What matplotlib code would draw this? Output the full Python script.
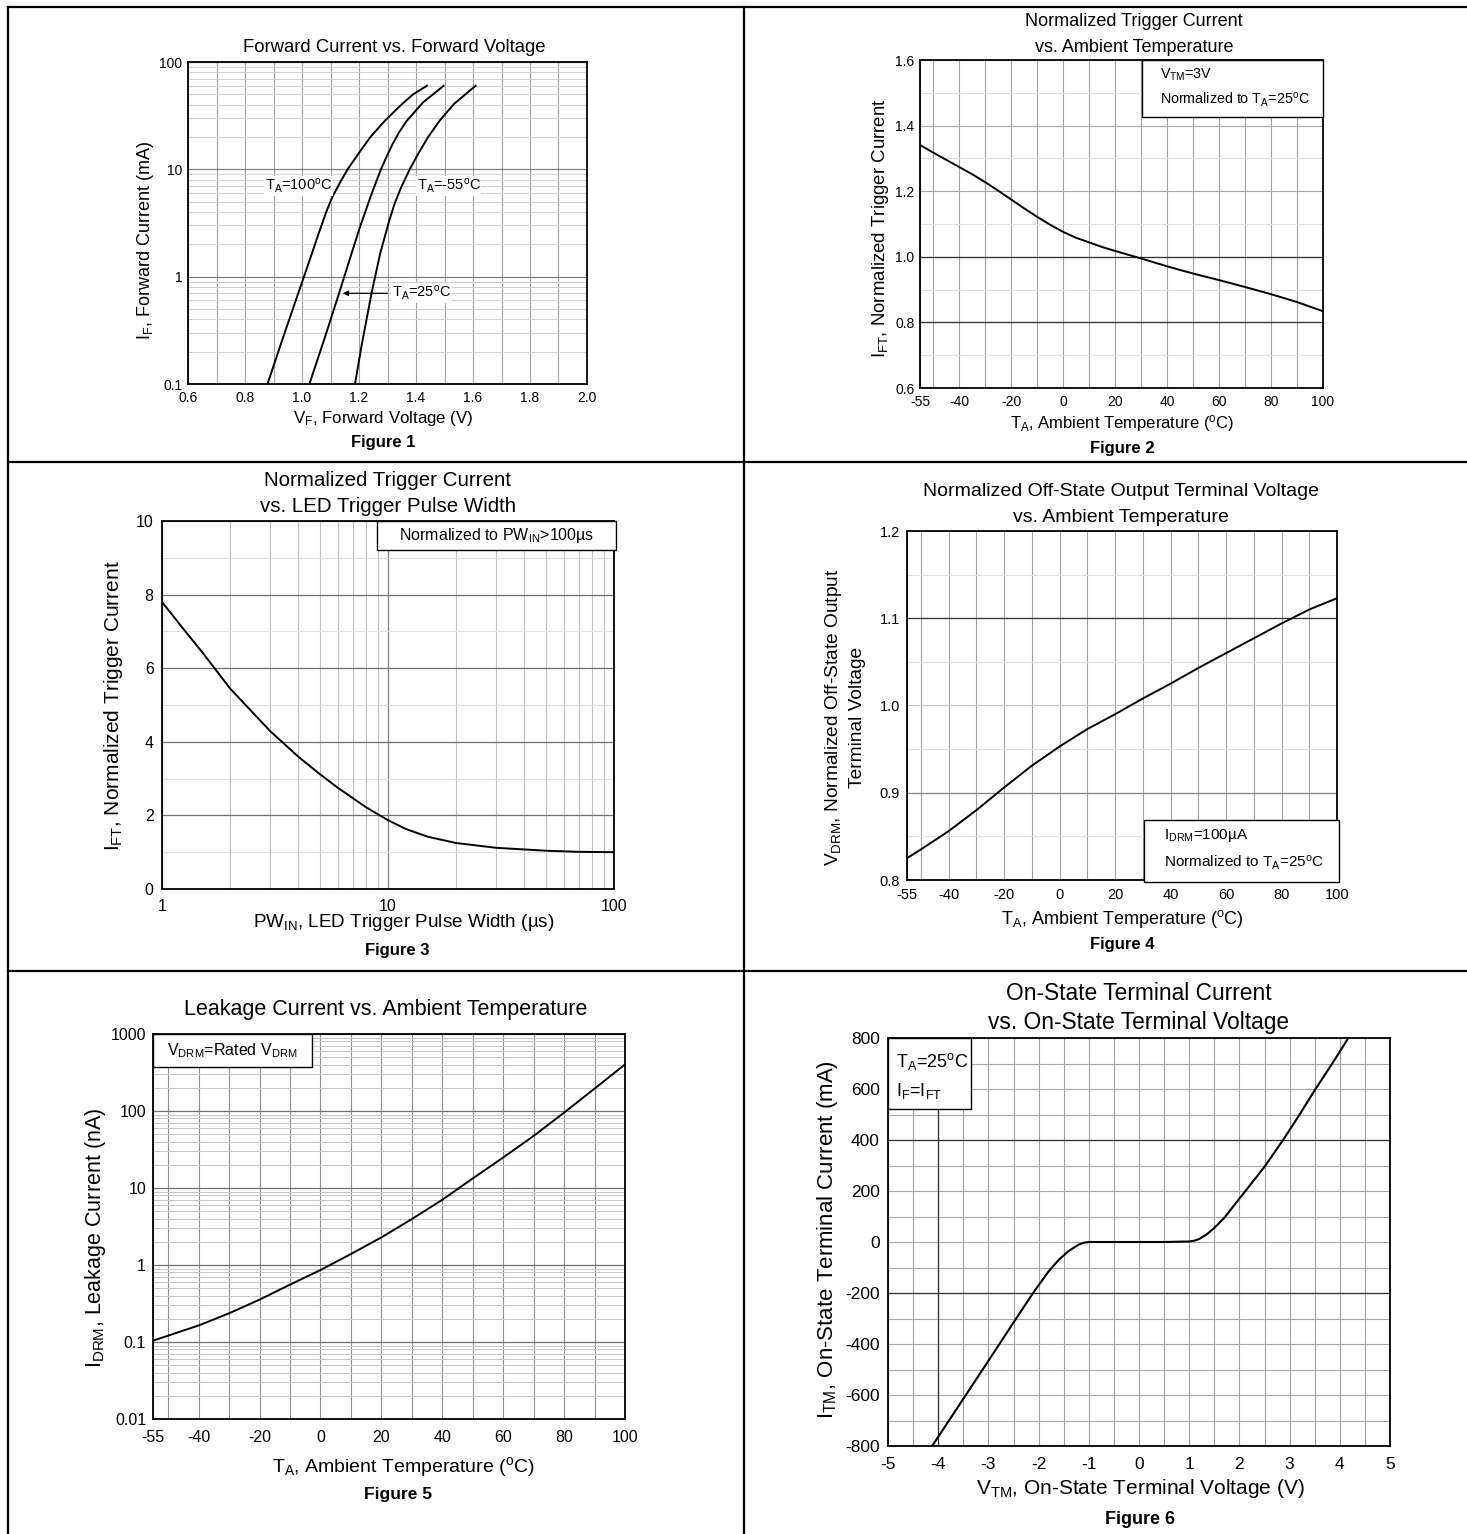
import numpy as np
import matplotlib
matplotlib.use('Agg')
import matplotlib.pyplot as plt
from matplotlib.patches import Rectangle
from matplotlib.lines import Line2D
from matplotlib.ticker import FixedLocator, LogLocator, NullFormatter

plt.rcParams['font.family'] = ['Liberation Sans', 'DejaVu Sans']
plt.rcParams['mathtext.fontset'] = 'custom'
plt.rcParams['mathtext.rm'] = 'Liberation Sans'
plt.rcParams['mathtext.it'] = 'Liberation Sans:italic'
plt.rcParams['mathtext.bf'] = 'Liberation Sans:bold'
plt.rcParams['axes.unicode_minus'] = False

W, H = 1467, 1534

# ---- Figure 1: forward current vs forward voltage ----
vf_100 = [0.879, 0.922, 0.970, 1.007, 1.058, 1.085, 1.106, 1.133, 1.160, 1.198, 1.240,
          1.291, 1.351, 1.390, 1.438]
if_100 = [0.1, 0.22, 0.52, 1.0, 2.5, 4.0, 5.5, 7.5, 10, 14, 20, 28.4, 40.6, 50, 60]
vf_25 = [1.026, 1.080, 1.130, 1.166, 1.203, 1.240, 1.259, 1.277, 1.296, 1.318, 1.340,
         1.368, 1.425, 1.497]
if_25 = [0.1, 0.27, 0.70, 1.41, 2.88, 5.5, 7.5, 10, 13, 17.2, 22, 28.4, 42.1, 60]
vf_m55 = [1.186, 1.210, 1.244, 1.274, 1.306, 1.325, 1.348, 1.378, 1.408, 1.442, 1.483,
          1.533, 1.609]
if_m55 = [0.1, 0.236, 0.70, 1.63, 3.32, 4.8, 6.8, 10, 14, 19.9, 28.4, 40.6, 60]

# ---- Figure 2: normalized trigger current vs temperature ----
temp2 = [-55, -50, -45, -40, -35, -30, -25, -20, -15, -10, -5, 0, 5, 10, 15, 20,
         30, 40, 50, 60, 70, 80, 90, 100]
ift2 = [1.341, 1.318, 1.296, 1.274, 1.252, 1.228, 1.202, 1.175, 1.148, 1.122, 1.098,
        1.076, 1.058, 1.044, 1.030, 1.018, 0.995, 0.971, 0.949, 0.929, 0.908, 0.886,
        0.862, 0.834]

# ---- Figure 3: normalized trigger current vs pulse width ----
pw3 = [1, 1.25, 1.5, 2, 3, 4, 5, 6, 8, 10, 12, 15, 20, 30, 50, 70, 100]
ift3 = [7.8, 7.05, 6.45, 5.45, 4.3, 3.6, 3.12, 2.75, 2.22, 1.87, 1.63, 1.42, 1.25,
        1.12, 1.04, 1.01, 1.0]

# ---- Figure 4: normalized off-state voltage vs temperature ----
temp4 = [-55, -50, -40, -30, -20, -10, 0, 10, 20, 30, 40, 50, 60, 70, 80, 90, 100]
vdrm4 = [0.825, 0.835, 0.856, 0.880, 0.906, 0.931, 0.953, 0.973, 0.990, 1.008, 1.025,
         1.043, 1.060, 1.077, 1.094, 1.110, 1.123]

# ---- Figure 5: leakage current vs temperature ----
temp5 = [-55, -40, -30, -20, -10, 0, 10, 20, 30, 40, 50, 60, 70, 80, 90, 100]
idrm5 = [0.104, 0.164, 0.236, 0.355, 0.556, 0.861, 1.39, 2.28, 3.95, 7.03,
         13.3, 24.9, 47.5, 95.3, 195, 403]

# ---- Figure 6: on-state current vs voltage ----
vtm6 = [-4.12, -3.53, -3.0, -2.5, -2.11, -1.8, -1.6, -1.4, -1.2, -1.1, -1.0, -0.5, 0,
        0.5, 1.0, 1.1, 1.2, 1.35, 1.5, 1.7, 1.9, 2.12, 2.5, 2.87, 3.2, 3.5, 3.85, 4.17]
itm6 = [-800, -624, -466, -316, -200, -115, -70, -35, -10, -3, 0, 0, 0,
        0, 2, 5, 12, 30, 55, 95, 145, 200, 295, 400, 500, 595, 700, 800]

temp_ticks = [-55, -40, -20, 0, 20, 40, 60, 80, 100]
temp_grid = [-50, -30, -10, 10, 30, 50, 70, 90]

fig = plt.figure(figsize=(W / 100, H / 100), dpi=100)


def px_axes(l, t, r, b):
    return fig.add_axes([l / W, 1 - b / H, (r - l) / W, (b - t) / H])


def px_text(x, y, s, size, **kw):
    kw.setdefault('ha', 'center')
    kw.setdefault('va', 'center')
    fig.text(x / W, 1 - y / H, s, fontsize=size, **kw)


def base_style(ax, size, xpad, ypad):
    for sp in ax.spines.values():
        sp.set_linewidth(1.3)
        sp.set_zorder(5)
    ax.tick_params(which='both', length=0, labelsize=size)
    ax.tick_params(axis='x', pad=xpad)
    ax.tick_params(axis='y', pad=ypad)
    ax.set_axisbelow(True)


def box(ax, x0, y0, x1, y1):
    ax.add_patch(Rectangle((x0, y0), x1 - x0, y1 - y0, transform=ax.transAxes,
                           facecolor='white', edgecolor='black', lw=1.0,
                           clip_on=False, zorder=6))


# table frame
for seg in [((8, 1467), (7, 7)), ((8, 8), (7, 1534)), ((743.5, 743.5), (7, 1534)),
            ((8, 1467), (462, 462)), ((8, 1467), (971, 971))]:
    fig.add_artist(Line2D([x / W for x in seg[0]], [1 - y / H for y in seg[1]],
                          color='black', lw=1.6))

# ================= Figure 1 =================
ax1 = px_axes(188, 62, 587, 384)
ax1.set_yscale('log')
ax1.set_xlim(0.6, 2.0)
ax1.set_ylim(0.1, 100)
ax1.set_xticks(np.round(np.arange(0.6, 2.01, 0.2), 1))
ax1.set_xticklabels(['0.6', '0.8', '1.0', '1.2', '1.4', '1.6', '1.8', '2.0'])
ax1.xaxis.set_minor_locator(FixedLocator(np.arange(0.7, 2.0, 0.2)))
ax1.set_yticks([0.1, 1, 10, 100])
ax1.set_yticklabels(['0.1', '1', '10', '100'])
ax1.yaxis.set_minor_locator(LogLocator(subs=range(2, 10)))
ax1.yaxis.set_minor_formatter(NullFormatter())
base_style(ax1, 10, 5, 4)
ax1.grid(True, which='both', axis='x', color='#a0a0a0', lw=0.8)
ax1.grid(True, which='major', axis='y', color='#808080', lw=0.9)
ax1.grid(True, which='minor', axis='y', color='#d0d0d0', lw=0.7)
for v, i in [(vf_100, if_100), (vf_25, if_25), (vf_m55, if_m55)]:
    ax1.plot(v, i, color='black', lw=1.4, zorder=3)
lab_kw = dict(fontsize=10.5, va='center', ha='left', zorder=4,
              bbox=dict(facecolor='white', edgecolor='none', pad=0.5))
ax1.text(0.870, 7.05, r'T$_{\rm A}$=100$^{\rm o}$C', **lab_kw)
ax1.text(1.402, 7.05, r'T$_{\rm A}$=-55$^{\rm o}$C', **lab_kw)
ax1.text(1.315, 0.70, r'T$_{\rm A}$=25$^{\rm o}$C', **lab_kw)
ax1.annotate('', xy=(1.133, 0.70), xytext=(1.31, 0.70), zorder=4,
             arrowprops=dict(arrowstyle='-|>', lw=0.9, color='black', mutation_scale=8))
px_text(394, 47, 'Forward Current vs. Forward Voltage', 13.3)
px_text(383, 418, r'V$_{\rm F}$, Forward Voltage (V)', 12.2)
px_text(145, 240, r'I$_{\rm F}$, Forward Current (mA)', 13, rotation=90)
px_text(383, 442, 'Figure 1', 12, fontweight='bold')

# ================= Figure 2 =================
ax2 = px_axes(920, 60, 1323, 388)
ax2.set_xlim(-55, 100)
ax2.set_ylim(0.6, 1.6)
ax2.set_xticks(temp_ticks)
ax2.xaxis.set_minor_locator(FixedLocator(temp_grid))
ax2.set_yticks([0.6, 0.8, 1.0, 1.2, 1.4, 1.6])
ax2.set_yticklabels(['0.6', '0.8', '1.0', '1.2', '1.4', '1.6'])
ax2.yaxis.set_minor_locator(FixedLocator([0.7, 0.9, 1.1, 1.3, 1.5]))
base_style(ax2, 10, 5, 4)
ax2.grid(True, which='both', axis='x', color='#a0a0a0', lw=0.8)
ax2.grid(True, which='major', axis='y', color='#a8a8a8', lw=0.8)
ax2.grid(True, which='minor', axis='y', color='#e0e0e0', lw=0.7)
for yv in [0.8, 1.0]:
    ax2.axhline(yv, color='#303030', lw=0.9, zorder=0.6)
ax2.plot(temp2, ift2, color='black', lw=1.4, zorder=3)
box(ax2, 0.55, 0.825, 1.0, 1.0)
ax2.text(0.596, 0.954, r'V$_{\rm TM}$=3V', transform=ax2.transAxes, fontsize=10.3,
         va='center', zorder=7)
ax2.text(0.596, 0.88, r'Normalized to T$_{\rm A}$=25$^{\rm o}$C', transform=ax2.transAxes,
         fontsize=10.3, va='center', zorder=7)
px_text(1134, 22, 'Normalized Trigger Current', 13)
px_text(1134, 47, 'vs. Ambient Temperature', 13)
px_text(1122, 424, r'T$_{\rm A}$, Ambient Temperature ($^{\rm o}$C)', 12)
px_text(880, 228, r'I$_{\rm FT}$, Normalized Trigger Current', 13.4, rotation=90)
px_text(1122, 449, 'Figure 2', 12, fontweight='bold')

# ================= Figure 3 =================
ax3 = px_axes(162, 521, 614, 889)
ax3.set_xscale('log')
ax3.set_xlim(1, 100)
ax3.set_ylim(0, 10)
ax3.set_xticks([1, 10, 100])
ax3.set_xticklabels(['1', '10', '100'])
ax3.xaxis.set_minor_locator(LogLocator(subs=range(2, 10)))
ax3.xaxis.set_minor_formatter(NullFormatter())
ax3.set_yticks([0, 2, 4, 6, 8, 10])
ax3.yaxis.set_minor_locator(FixedLocator([1, 3, 5, 7, 9]))
base_style(ax3, 11.5, 7, 6)
ax3.grid(True, which='major', axis='x', color='#808080', lw=0.9)
ax3.grid(True, which='minor', axis='x', color='#c0c0c0', lw=0.8)
ax3.grid(True, which='major', axis='y', color='#707070', lw=0.9)
ax3.grid(True, which='minor', axis='y', color='#e0e0e0', lw=0.7)
ax3.plot(pw3, ift3, color='black', lw=1.4, zorder=3)
box(ax3, 0.475, 0.92, 1.005, 1.0)
ax3.text(0.74, 0.96, r'Normalized to PW$_{\rm IN}$>100µs', transform=ax3.transAxes,
         fontsize=11.5, ha='center', va='center', zorder=7)
px_text(388, 480, 'Normalized Trigger Current', 14.8)
px_text(388, 507, 'vs. LED Trigger Pulse Width', 14.8)
px_text(404, 923, r'PW$_{\rm IN}$, LED Trigger Pulse Width (µs)', 13.6)
px_text(114, 706, r'I$_{\rm FT}$, Normalized Trigger Current', 15, rotation=90)
px_text(397, 951, 'Figure 3', 12, fontweight='bold')

# ================= Figure 4 =================
ax4 = px_axes(907, 531, 1337, 880)
ax4.set_xlim(-55, 100)
ax4.set_ylim(0.8, 1.2)
ax4.set_xticks(temp_ticks)
ax4.xaxis.set_minor_locator(FixedLocator(temp_grid))
ax4.set_yticks([0.8, 0.9, 1.0, 1.1, 1.2])
ax4.set_yticklabels(['0.8', '0.9', '1.0', '1.1', '1.2'])
ax4.yaxis.set_minor_locator(FixedLocator([0.85, 0.95, 1.05, 1.15]))
base_style(ax4, 10.5, 6, 5)
ax4.grid(True, which='both', axis='x', color='#a0a0a0', lw=0.8)
ax4.grid(True, which='major', axis='y', color='#c8c8c8', lw=0.8)
ax4.grid(True, which='minor', axis='y', color='#e0e0e0', lw=0.7)
ax4.axhline(0.9, color='#888888', lw=0.9, zorder=0.6)
ax4.axhline(1.1, color='#303030', lw=0.9, zorder=0.6)
ax4.plot(temp4, vdrm4, color='black', lw=1.4, zorder=3)
box(ax4, 0.552, -0.005, 1.004, 0.173)
ax4.text(0.597, 0.127, r'I$_{\rm DRM}$=100µA', transform=ax4.transAxes, fontsize=11,
         va='center', zorder=7)
ax4.text(0.597, 0.05, r'Normalized to T$_{\rm A}$=25$^{\rm o}$C', transform=ax4.transAxes,
         fontsize=11, va='center', zorder=7)
px_text(1121, 492, 'Normalized Off-State Output Terminal Voltage', 14)
px_text(1121, 517, 'vs. Ambient Temperature', 14)
px_text(1122, 919, r'T$_{\rm A}$, Ambient Temperature ($^{\rm o}$C)', 13)
px_text(834, 717, r'V$_{\rm DRM}$, Normalized Off-State Output', 13.8, rotation=90)
px_text(857, 717, 'Terminal Voltage', 13.8, rotation=90)
px_text(1122, 945, 'Figure 4', 12, fontweight='bold')

# ================= Figure 5 =================
ax5 = px_axes(153, 1034, 625, 1419)
ax5.set_yscale('log')
ax5.set_xlim(-55, 100)
ax5.set_ylim(0.01, 1000)
ax5.set_xticks(temp_ticks)
ax5.xaxis.set_minor_locator(FixedLocator(temp_grid))
ax5.set_yticks([0.01, 0.1, 1, 10, 100, 1000])
ax5.set_yticklabels(['0.01', '0.1', '1', '10', '100', '1000'])
ax5.yaxis.set_minor_locator(LogLocator(subs=range(2, 10)))
ax5.yaxis.set_minor_formatter(NullFormatter())
base_style(ax5, 11.5, 8, 5)
ax5.grid(True, which='both', axis='x', color='#909090', lw=0.8)
ax5.grid(True, which='major', axis='y', color='#707070', lw=0.9)
ax5.grid(True, which='minor', axis='y', color='#c8c8c8', lw=0.7)
ax5.plot(temp5, idrm5, color='black', lw=1.4, zorder=3)
box(ax5, 0.0, 0.914, 0.336, 1.0)
ax5.text(0.168, 0.957, r'V$_{\rm DRM}$=Rated V$_{\rm DRM}$', transform=ax5.transAxes,
         fontsize=11.5, ha='center', va='center', zorder=7)
px_text(386, 1009, 'Leakage Current vs. Ambient Temperature', 15.5)
px_text(403, 1467, r'T$_{\rm A}$, Ambient Temperature ($^{\rm o}$C)', 14)
px_text(95, 1238, r'I$_{\rm DRM}$, Leakage Current (nA)', 15.5, rotation=90)
px_text(398, 1495, 'Figure 5', 12.5, fontweight='bold')

# ================= Figure 6 =================
ax6 = px_axes(888, 1038, 1390, 1446)
ax6.set_xlim(-5, 5)
ax6.set_ylim(-800, 800)
ax6.set_xticks(range(-5, 6))
ax6.xaxis.set_minor_locator(FixedLocator(np.arange(-4.5, 5, 1.0)))
ax6.set_yticks(range(-800, 801, 200))
ax6.yaxis.set_minor_locator(FixedLocator(range(-700, 800, 200)))
base_style(ax6, 12.5, 8, 6)
ax6.grid(True, which='both', axis='x', color='#a0a0a0', lw=0.8)
ax6.grid(True, which='both', axis='y', color='#a8a8a8', lw=0.8)
ax6.axvline(-4, color='#303030', lw=0.9, zorder=0.6)
for yv in [400, -200]:
    ax6.axhline(yv, color='#303030', lw=0.9, zorder=0.6)
ax6.plot(vtm6, itm6, color='black', lw=1.5, zorder=3)
box(ax6, 0.0, 0.825, 0.166, 1.0)
ax6.text(0.016, 0.942, r'T$_{\rm A}$=25$^{\rm o}$C', transform=ax6.transAxes, fontsize=13,
         va='center', zorder=7)
ax6.text(0.016, 0.871, r'I$_{\rm F}$=I$_{\rm FT}$', transform=ax6.transAxes, fontsize=13,
         va='center', zorder=7)
px_text(1139, 993, 'On-State Terminal Current', 16.4)
px_text(1139, 1023, 'vs. On-State Terminal Voltage', 16.4)
px_text(1140, 1488, r'V$_{\rm TM}$, On-State Terminal Voltage (V)', 15)
px_text(828, 1240, r'I$_{\rm TM}$, On-State Terminal Current (mA)', 16, rotation=90)
px_text(1140, 1519, 'Figure 6', 13, fontweight='bold')

fig.savefig('out.png', dpi=100)
